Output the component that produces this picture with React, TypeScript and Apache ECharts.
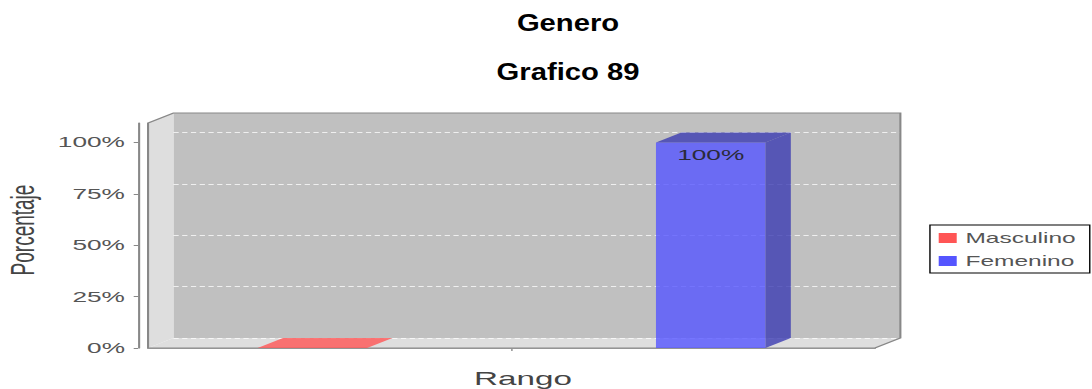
import React, { useEffect, useRef } from 'react';
import * as echarts from 'echarts';

// ---- data ----
const titleLines = ['Genero', 'Grafico 89'];
const categories = [''];
const seriesNames = ['Masculino', 'Femenino'];
const masculino = [0];
const femenino = [100];
const yTicks = [0, 25, 50, 75, 100];
const yMax = 109.5;
const xAxisName = 'Rango';
const yAxisName = 'Porcentaje';

// ---- layout (native coords; the whole drawing is stretched horizontally like the source image) ----
const STRETCH = 1.75;
const W = 1092 / STRETCH;
const H = 389;
const L0 = 84.6;
const R0 = 500;
const T0 = 123;
const B0 = 348;
const DX = 14.5;
const DY = -10;
const L1 = L0 + DX;
const R1 = R0 + DX;
const T1 = T0 + DY;
const B1 = B0 + DY;
const BAR_FRAC = 0.1506;
const BAR_OFFSETS = [-0.274, 0.274];
const COLORS = ['#ff5555', '#5555ff'];
const DARK = ['#b23b3b', '#3b3bb2'];
const FONT = '"Liberation Sans", Arial, sans-serif';

const renderBar3D = (offsetFrac: number, color: string, dark: string) => (params: any, api: any) => {
  const cat = api.value(0);
  const val = api.value(1);
  const base = api.coord([cat, 0]);
  const topP = api.coord([cat, val]);
  const band = api.size([1, 0])[0];
  const w = band * BAR_FRAC;
  const cx = base[0] + band * offsetFrac;
  const x0 = cx - w / 2;
  const x1 = cx + w / 2;
  const yb = base[1];
  const yt = topP[1];
  const h = yb - yt;
  const children: any[] = [
    {
      type: 'rect',
      shape: { x: x0, y: yt, width: w, height: h },
      style: { fill: color, opacity: 0.8 },
    },
    {
      type: 'polygon',
      shape: { points: [[x1, yt], [x1 + DX, yt + DY], [x1 + DX, yb + DY], [x1, yb]] },
      style: { fill: dark, opacity: 0.8 },
    },
    {
      type: 'polygon',
      shape: { points: [[x0, yt], [x0 + DX, yt + DY], [x1 + DX, yt + DY], [x1, yt]] },
      style: { fill: h > 1 ? dark : color, opacity: 0.8 },
    },
  ];
  if (val > 0) {
    children.push({
      type: 'text',
      x: cx,
      y: yt + 12.5,
      style: {
        text: val + '%',
        fill: '#2a2a3a',
        font: '15px ' + FONT,
        align: 'center',
        verticalAlign: 'middle',
        textAlign: 'center',
        textVerticalAlign: 'middle',
      },
    });
  }
  return { type: 'group', children };
};

const seriesValues = [masculino, femenino];

export default function App() {
  const ref = useRef<HTMLDivElement>(null);

  useEffect(() => {
    if (!ref.current) return;
    const chart = echarts.init(ref.current, null, { renderer: 'svg' });

    const titleText = (text: string, y: number) => ({
      type: 'text',
      x: 568 / STRETCH,
      y,
      scaleX: 1.27 / STRETCH,
      z: 10,
      style: {
        text,
        font: 'bold 23px ' + FONT,
        fill: '#000000',
        align: 'center',
        verticalAlign: 'middle',
        textAlign: 'center',
        textVerticalAlign: 'middle',
      },
    });

    const option: any = {
      animation: false,
      backgroundColor: '#ffffff',
      textStyle: { fontFamily: FONT },
      legend: {
        orient: 'vertical',
        left: 531.4,
        top: 225,
        padding: [6, 8, 5, 5],
        itemWidth: 10.3,
        itemHeight: 10,
        itemGap: 9,
        borderColor: '#000000',
        borderWidth: 0.8,
        icon: 'rect',
        data: seriesNames,
        textStyle: { fontSize: 14, color: '#555555', fontFamily: FONT },
      },
      grid: [
        { left: L0, right: W - R0, top: T0, bottom: H - B0, containLabel: false, outerBoundsMode: 'none' },
        {
          left: L1,
          right: W - R1,
          top: T1,
          bottom: H - B1,
          containLabel: false,
          outerBoundsMode: 'none',
          show: true,
          backgroundColor: '#c0c0c0',
          borderWidth: 0,
        },
      ],
      xAxis: [
        {
          type: 'category',
          gridIndex: 0,
          data: categories,
          offset: 4,
          axisLine: { show: true, lineStyle: { color: '#a0a0a0', width: 1.2 } },
          axisTick: { show: true, alignWithLabel: true, length: 3, lineStyle: { color: '#a0a0a0' } },
          axisLabel: { show: false },
          splitLine: { show: false },
          name: xAxisName,
          nameLocation: 'middle',
          nameGap: 17,
          nameTextStyle: { fontSize: 19, color: '#444444', fontFamily: FONT, padding: [0, 0, 0, 13] },
        },
        {
          type: 'category',
          gridIndex: 1,
          data: categories,
          show: false,
        },
      ],
      yAxis: [
        {
          type: 'value',
          gridIndex: 0,
          min: 0,
          max: yMax,
          interval: 25,
          offset: L0 - 78.9,
          axisLine: { show: true, lineStyle: { color: '#888888', width: 1.2 } },
          axisTick: { show: true, length: 2.5, customValues: yTicks, lineStyle: { color: '#888888' } },
          axisLabel: {
            customValues: yTicks,
            formatter: (v: number) => v + '%',
            fontSize: 15,
            color: '#555555',
            margin: 7.5,
            fontFamily: FONT,
          },
          splitLine: { show: false },
          name: yAxisName,
          nameLocation: 'middle',
          nameGap: 54,
          nameTextStyle: { fontSize: 19, color: '#444444', fontFamily: FONT, padding: [0, 0, 0, 11] },
        },
        {
          type: 'value',
          gridIndex: 1,
          min: 0,
          max: yMax,
          interval: 25,
          z: 1.5,
          axisLine: { show: false },
          axisTick: { show: false },
          axisLabel: { show: false },
          splitLine: {
            show: true,
            showMaxLine: false,
            lineStyle: { color: 'rgba(255,255,255,0.75)', type: [3, 2], width: 1 },
          },
        },
      ],
      graphic: [
        {
          type: 'polygon',
          z: 1,
          shape: { points: [[L0, B0], [L0, T0], [L1, T1], [L1, B1]] },
          style: { fill: '#dedede' },
        },
        {
          type: 'polygon',
          z: 1,
          shape: { points: [[L0, B0], [L1, B1], [R1, B1], [R0, B0]] },
          style: { fill: '#dedede' },
        },
        {
          type: 'polygon',
          z: 2,
          shape: { points: [[L0, B0], [L0, T0], [L1, T1], [R1, T1], [R1, B1], [R0, B0]] },
          style: { fill: 'none', stroke: '#888888', lineWidth: 1.2 },
        },
        titleText(titleLines[0], 23.5),
        titleText(titleLines[1], 72.5),
      ],
      series: seriesNames.map((name, i) => ({
        type: 'custom',
        name,
        xAxisIndex: 0,
        yAxisIndex: 0,
        z: 3,
        itemStyle: { color: COLORS[i] },
        encode: { x: 0, y: 1 },
        data: seriesValues[i].map((v, ci) => [ci, v]),
        renderItem: renderBar3D(BAR_OFFSETS[i], COLORS[i], DARK[i]),
      })),
    };

    chart.setOption(option);
    return () => {
      chart.dispose();
    };
  }, []);

  return (
    <div
      ref={ref}
      style={{
        position: 'fixed',
        left: 0,
        top: 0,
        width: W,
        height: H,
        transform: `scaleX(${STRETCH})`,
        transformOrigin: '0 0',
      }}
    />
  );
}
